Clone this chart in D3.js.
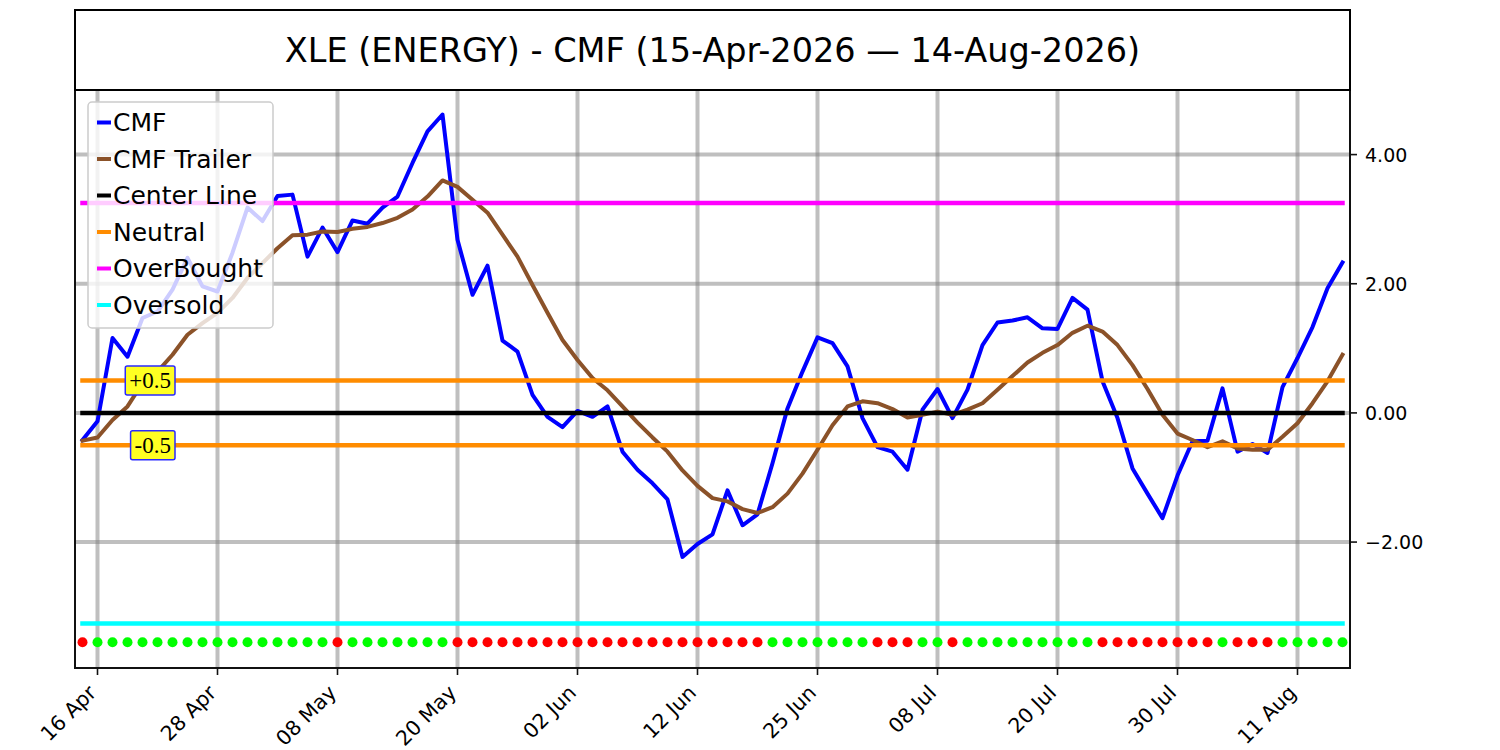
<!DOCTYPE html>
<html><head><meta charset="utf-8">
<script src="https://cdn.jsdelivr.net/npm/d3@7"></script>
<style>
body{margin:0;background:#fff;}
svg{display:block;font-family:"DejaVu Sans",sans-serif;}
</style>
</head><body>
<svg id="chart" width="1500" height="750"></svg>
<script>
// ---------- data ----------
const dates = [
"2026-04-15","2026-04-16","2026-04-17","2026-04-20","2026-04-21","2026-04-22","2026-04-23","2026-04-24","2026-04-27","2026-04-28",
"2026-04-29","2026-04-30","2026-05-01","2026-05-04","2026-05-05","2026-05-06","2026-05-07","2026-05-08","2026-05-11","2026-05-12",
"2026-05-13","2026-05-14","2026-05-15","2026-05-18","2026-05-19","2026-05-20","2026-05-21","2026-05-22","2026-05-26","2026-05-27",
"2026-05-28","2026-05-29","2026-06-01","2026-06-02","2026-06-03","2026-06-04","2026-06-05","2026-06-08","2026-06-09","2026-06-10",
"2026-06-11","2026-06-12","2026-06-15","2026-06-16","2026-06-17","2026-06-18","2026-06-22","2026-06-23","2026-06-24","2026-06-25",
"2026-06-26","2026-06-29","2026-06-30","2026-07-01","2026-07-02","2026-07-06","2026-07-07","2026-07-08","2026-07-09","2026-07-10",
"2026-07-13","2026-07-14","2026-07-15","2026-07-16","2026-07-17","2026-07-20","2026-07-21","2026-07-22","2026-07-23","2026-07-24",
"2026-07-27","2026-07-28","2026-07-29","2026-07-30","2026-07-31","2026-08-03","2026-08-04","2026-08-05","2026-08-06","2026-08-07",
"2026-08-10","2026-08-11","2026-08-12","2026-08-13","2026-08-14"];

const cmf = [
-0.42,-0.13,1.16,0.87,1.47,1.57,1.91,2.40,1.96,1.88,
2.48,3.18,2.97,3.36,3.38,2.42,2.87,2.49,2.98,2.93,
3.18,3.35,3.87,4.36,4.62,2.68,1.83,2.28,1.12,0.95,
0.28,-0.06,-0.22,0.03,-0.06,0.10,-0.60,-0.88,-1.09,-1.34,
-2.23,-2.03,-1.88,-1.20,-1.74,-1.57,-0.78,0.07,0.64,1.17,
1.08,0.72,-0.08,-0.53,-0.60,-0.88,0.05,0.37,-0.08,0.36,
1.05,1.40,1.43,1.48,1.31,1.30,1.78,1.60,0.49,-0.08,
-0.86,-1.25,-1.63,-0.97,-0.44,-0.43,0.38,-0.60,-0.48,-0.62,
0.40,0.85,1.33,1.93,2.33];

const trailer = [
-0.43,-0.38,-0.11,0.10,0.46,0.64,0.90,1.21,1.39,1.55,
1.78,2.09,2.32,2.55,2.75,2.76,2.81,2.80,2.85,2.88,
2.94,3.02,3.15,3.35,3.60,3.50,3.30,3.10,2.76,2.42,
1.98,1.55,1.13,0.82,0.54,0.35,0.10,-0.15,-0.38,-0.60,
-0.89,-1.13,-1.32,-1.37,-1.49,-1.55,-1.46,-1.25,-0.94,-0.57,
-0.19,0.10,0.18,0.15,0.06,-0.07,-0.03,0.02,-0.03,0.05,
0.15,0.36,0.57,0.78,0.93,1.05,1.24,1.35,1.26,1.05,
0.74,0.37,-0.03,-0.32,-0.42,-0.53,-0.44,-0.55,-0.57,-0.57,
-0.37,-0.16,0.15,0.49,0.90];

// 1 = green (bullish) dot, 0 = red (bearish) dot
const signal = [
0,1,1,1,1,1,1,1,1,1,
1,1,1,1,1,1,1,0,1,1,
1,1,1,1,1,0,0,0,0,0,
0,0,0,0,0,0,0,0,0,0,
0,0,0,0,0,0,1,1,1,1,
1,1,1,0,0,0,1,1,0,1,
1,1,1,1,1,1,1,1,0,0,
0,0,0,0,0,0,1,0,0,0,
1,1,1,1,1];

const centerLine = 0;
const neutralLevels = [0.5, -0.5];
const neutralLabels = ["+0.5", "-0.5"];
const overBought = 3.25;
const overSold = -3.26;
const signalLevel = -3.55;

const tickDates = ["2026-04-16","2026-04-28","2026-05-08","2026-05-20","2026-06-02","2026-06-12",
                   "2026-06-25","2026-07-08","2026-07-20","2026-07-30","2026-08-11"];
const yTicks = [-2, 0, 2, 4];
const titleText = "XLE (ENERGY) - CMF (15-Apr-2026 \u2014 14-Aug-2026)";
const legendLabels = ["CMF", "CMF Trailer", "Center Line", "Neutral", "OverBought", "Oversold"];
const legendColors = ["#0000ff", "#8b5229", "#000000", "#ff8c00", "#ff00ff", "#00ffff"];

// ---------- layout ----------
const L = 75, R = 1350, T = 90, B = 668;
const svg = d3.select("#chart");

const x = d3.scaleLinear().domain([-0.5, dates.length - 0.5]).range([L, R]);
const y = d3.scaleLinear().domain([-3.95, 5.0]).range([B, T]);

const parse = d3.timeParse("%Y-%m-%d");
const fmt = d3.timeFormat("%d %b");
const tickIdx = tickDates.map(d => dates.indexOf(d));

// grid
const grid = svg.append("g");
grid.selectAll(".vg").data(tickIdx).join("line")
  .attr("x1", d => x(d)).attr("x2", d => x(d)).attr("y1", T).attr("y2", B)
  .attr("stroke", "#808080").attr("stroke-opacity", 0.5).attr("stroke-width", 4);
grid.selectAll(".hg").data(yTicks).join("line")
  .attr("x1", L).attr("x2", R).attr("y1", d => y(d)).attr("y2", d => y(d))
  .attr("stroke", "#808080").attr("stroke-opacity", 0.5).attr("stroke-width", 4);

// series
const line = d3.line().x((d, i) => x(i)).y(d => y(d));
svg.append("path").datum(cmf).attr("d", line)
  .attr("fill", "none").attr("stroke", legendColors[0]).attr("stroke-width", 4)
  .attr("stroke-linejoin", "round").attr("stroke-linecap", "square");
svg.append("path").datum(trailer).attr("d", line)
  .attr("fill", "none").attr("stroke", legendColors[1]).attr("stroke-width", 4)
  .attr("stroke-linejoin", "round").attr("stroke-linecap", "square");

// horizontal levels
const levels = [
  {v: centerLine, c: legendColors[2]},
  {v: neutralLevels[0], c: legendColors[3]},
  {v: neutralLevels[1], c: legendColors[3]},
  {v: overBought, c: legendColors[4]},
  {v: overSold, c: legendColors[5]}
];
svg.append("g").selectAll("line").data(levels).join("line")
  .attr("x1", x(0)).attr("x2", x(dates.length - 1))
  .attr("y1", d => y(d.v)).attr("y2", d => y(d.v))
  .attr("stroke", d => d.c).attr("stroke-width", 4.5).attr("stroke-linecap", "square");

// signal dots
svg.append("g").selectAll("circle").data(signal).join("circle")
  .attr("cx", (d, i) => x(i)).attr("cy", y(signalLevel)).attr("r", 5)
  .attr("fill", d => d ? "#00ff00" : "#ff0000");

// annotations
neutralLevels.forEach((v, k) => {
  const g = svg.append("g");
  const t = g.append("text").attr("x", 171).attr("y", y(v))
    .attr("text-anchor", "end").attr("dominant-baseline", "central")
    .attr("font-family", "'Liberation Serif', serif").attr("font-size", 23)
    .attr("fill", "#000").text(neutralLabels[k]);
  const bb = t.node().getBBox();
  g.insert("rect", "text")
    .attr("x", bb.x - 4).attr("y", y(v) - 14.5).attr("width", bb.width + 8).attr("height", 29)
    .attr("rx", 2).attr("fill", "#ffff22").attr("stroke", "#2a2aff").attr("stroke-width", 1.5);
});

// frame
svg.append("rect").attr("x", L).attr("y", T).attr("width", R - L).attr("height", B - T)
  .attr("fill", "none").attr("stroke", "#111").attr("stroke-width", 2);

// title box
svg.append("rect").attr("x", L).attr("y", 10).attr("width", R - L).attr("height", T - 10)
  .attr("fill", "none").attr("stroke", "#000").attr("stroke-width", 2);
svg.append("text").attr("x", (L + R) / 2).attr("y", 50)
  .attr("text-anchor", "middle").attr("dominant-baseline", "central")
  .attr("font-size", 33.5).attr("fill", "#000").text(titleText);

// right y axis
const ya = svg.append("g");
yTicks.forEach(v => {
  ya.append("line").attr("x1", R).attr("x2", R + 7).attr("y1", y(v)).attr("y2", y(v))
    .attr("stroke", "#111").attr("stroke-width", 1.6);
  ya.append("text").attr("x", R + 15).attr("y", y(v))
    .attr("dominant-baseline", "central").attr("font-size", 19).attr("fill", "#000")
    .text(d3.format(".2f")(v));
});

// x axis
const xa = svg.append("g");
tickIdx.forEach((i, k) => {
  const px = x(i);
  xa.append("line").attr("x1", px).attr("x2", px).attr("y1", B).attr("y2", B + 7)
    .attr("stroke", "#111").attr("stroke-width", 1.6);
  xa.append("text")
    .attr("transform", `translate(${px},${B + 26}) rotate(-45)`)
    .attr("text-anchor", "end").attr("font-size", 20.5).attr("fill", "#000")
    .text(fmt(parse(tickDates[k])));
});

// legend
const lg = svg.append("g");
lg.append("rect").attr("x", 88).attr("y", 102).attr("width", 185).attr("height", 226).attr("rx", 4)
  .attr("fill", "#fff").attr("fill-opacity", 0.8).attr("stroke", "#cccccc").attr("stroke-width", 1.5);
legendLabels.forEach((lab, k) => {
  const yy = 122.5 + k * 36.5;
  lg.append("line").attr("x1", 97).attr("x2", 111).attr("y1", yy).attr("y2", yy)
    .attr("stroke", legendColors[k]).attr("stroke-width", 4);
  lg.append("text").attr("x", 113).attr("y", yy).attr("dominant-baseline", "central")
    .attr("font-size", 25).attr("fill", "#000").text(lab);
});
</script>
</body></html>
